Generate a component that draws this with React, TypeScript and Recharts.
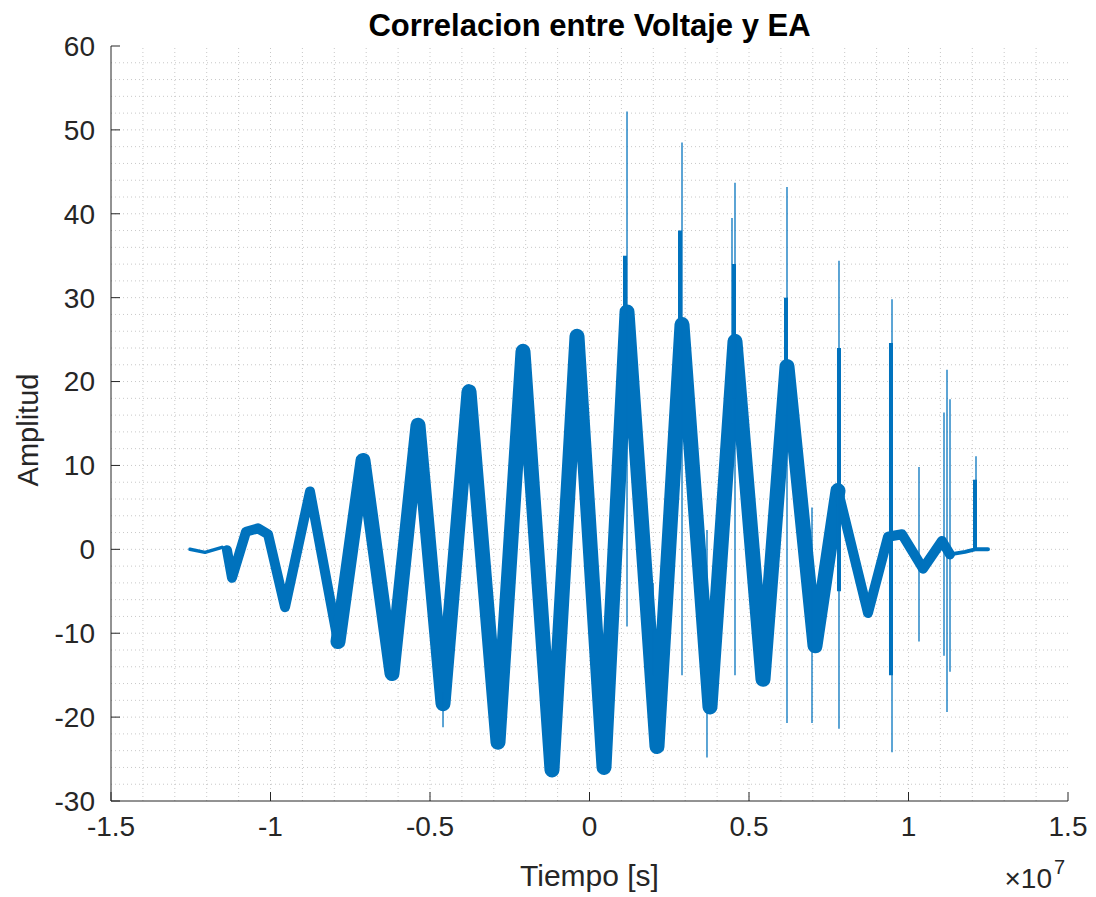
import React from 'react';
import { ComposedChart, Line, XAxis, YAxis, ReferenceLine } from 'recharts';

// Axis ticks
const xTicks = [-1.5, -1, -0.5, 0, 0.5, 1, 1.5];
const yTicks = [-30, -20, -10, 0, 10, 20, 30, 40, 50, 60];
const xGrid = [-1.4, -1.3, -1.2, -1.1, -1, -0.9, -0.8, -0.7, -0.6, -0.5, -0.4, -0.3, -0.2, -0.1, 0, 0.1, 0.2, 0.3, 0.4, 0.5, 0.6, 0.7, 0.8, 0.9, 1, 1.1, 1.2, 1.3, 1.4];
const yGrid = [-28, -26, -24, -22, -20, -18, -16, -14, -12, -10, -8, -6, -4, -2, 0, 2, 4, 6, 8, 10, 12, 14, 16, 18, 20, 22, 24, 26, 28, 30, 32, 34, 36, 38, 40, 42, 44, 46, 48, 50, 52, 54, 56, 58];

const tailLeft = [
  { x: -1.2524, y: 0 }, { x: -1.2053, y: -0.36 }, { x: -1.152, y: 0.24 }, { x: -1.1364, y: -0.1 },
];
const rampLeft = [
  { x: -1.1364, y: -0.1 }, { x: -1.1207, y: -3.4 }, { x: -1.0768, y: 2.1 }, { x: -1.0392, y: 2.5 },
  { x: -1.0078, y: 1.8 }, { x: -0.9545, y: -6.9 }, { x: -0.8762, y: 6.9 }, { x: -0.7884, y: -11.0 },
];
const core = [
  { x: -0.7884, y: -11.0 }, { x: -0.71, y: 10.6 }, { x: -0.6191, y: -14.8 }, { x: -0.5376, y: 14.8 },
  { x: -0.4592, y: -18.4 }, { x: -0.3777, y: 18.8 }, { x: -0.2868, y: -23.0 }, { x: -0.2085, y: 23.6 },
  { x: -0.1176, y: -26.3 }, { x: -0.0392, y: 25.4 }, { x: 0.0455, y: -26.0 }, { x: 0.1176, y: 28.3 },
  { x: 0.2116, y: -23.5 }, { x: 0.29, y: 26.8 }, { x: 0.3777, y: -18.8 }, { x: 0.4561, y: 24.8 },
  { x: 0.5439, y: -15.5 }, { x: 0.6191, y: 21.8 }, { x: 0.7069, y: -11.5 }, { x: 0.779, y: 7.0 },
];
const rampRight = [
  { x: 0.779, y: 7.0 }, { x: 0.873, y: -7.6 }, { x: 0.9357, y: 1.5 }, { x: 0.9796, y: 1.8 },
  { x: 1.0455, y: -2.3 }, { x: 1.105, y: 1.0 }, { x: 1.1301, y: -0.6 },
];
const tailRight = [
  { x: 1.1301, y: -0.6 }, { x: 1.1771, y: -0.3 }, { x: 1.2085, y: 0 }, { x: 1.2492, y: 0 },
];

// Isolated spikes: x, low, high
const thinSpikes = [
  { x: -0.4592, lo: -21.2, hi: -17 },
  { x: 0.1176, lo: -9.2, hi: 52.2 },
  { x: 0.1991, lo: -15, hi: -4 },
  { x: 0.29, lo: -15, hi: 48.5 },
  { x: 0.3683, lo: -24.8, hi: 2.3 },
  { x: 0.4467, lo: 15, hi: 39.5 },
  { x: 0.4561, lo: -15, hi: 43.7 },
  { x: 0.6191, lo: -20.7, hi: 43.2 },
  { x: 0.6975, lo: -20.7, hi: 5 },
  { x: 0.7821, lo: -21.4, hi: 34.4 },
  { x: 0.9483, lo: -24.2, hi: 29.8 },
  { x: 1.0329, lo: -11, hi: 9.8 },
  { x: 1.1113, lo: -12.7, hi: 16.3 },
  { x: 1.1207, lo: -19.4, hi: 21.4 },
  { x: 1.1301, lo: -14.6, hi: 17.9 },
  { x: 1.2116, lo: 0, hi: 11.1 },
];
const denseSpikes = [
  { x: 0.1113, lo: 20, hi: 35 },
  { x: 0.2837, lo: 20, hi: 38 },
  { x: 0.453, lo: 18, hi: 34 },
  { x: 0.616, lo: 16, hi: 30 },
  { x: 0.7821, lo: -5, hi: 24 },
  { x: 0.9451, lo: -15, hi: 24.6 },
  { x: 1.2085, lo: 0, hi: 8.3 },
];

const BLUE = '#0072BD';
const AXIS = '#262626';
const GRID = '#c8c8c8';
const FONT = '"Liberation Sans", Arial, Helvetica, sans-serif';

const segments = [
  { key: 'tailLeft', data: tailLeft, w: 3.5 },
  { key: 'rampLeft', data: rampLeft, w: 10 },
  { key: 'core', data: core, w: 15 },
  { key: 'rampRight', data: rampRight, w: 10 },
  { key: 'tailRight', data: tailRight, w: 4 },
];

export default function App() {
  const W = 1088;
  const H = 889;
  const tickStyle = { fontSize: 28, fill: AXIS, fontFamily: FONT };
  return (
    <div style={{ position: 'relative', width: W, height: H, background: '#fff' }}>
      <ComposedChart width={W} height={H} margin={{ top: 38, right: 28, bottom: 46, left: 13 }}>
        <XAxis
          dataKey="x"
          type="number"
          domain={[-1.5, 1.5]}
          ticks={xTicks}
          interval={0}
          allowDataOverflow
          height={50}
          tickSize={-9}
          tickMargin={24}
          tick={tickStyle}
          stroke={AXIS}
          axisLine={{ stroke: AXIS }}
          tickLine={{ stroke: AXIS }}
        />
        <XAxis
          xAxisId="top"
          orientation="top"
          type="number"
          domain={[-1.5, 1.5]}
          ticks={xTicks}
          interval={0}
          allowDataOverflow
          height={0}
          tickSize={-9}
          tick={false}
          axisLine={{ stroke: AXIS }}
          tickLine={{ stroke: AXIS }}
        />
        <YAxis
          type="number"
          domain={[-30, 60]}
          ticks={yTicks}
          interval={0}
          allowDataOverflow
          width={90}
          tickSize={-9}
          tickMargin={25}
          tick={tickStyle}
          axisLine={{ stroke: AXIS }}
          tickLine={{ stroke: AXIS }}
        />
        <YAxis
          yAxisId="right"
          orientation="right"
          type="number"
          domain={[-30, 60]}
          ticks={yTicks}
          interval={0}
          allowDataOverflow
          width={0}
          tickSize={-9}
          tick={false}
          axisLine={{ stroke: AXIS }}
          tickLine={{ stroke: AXIS }}
        />
        {xGrid.map((v) => (
          <ReferenceLine key={'gx' + v} x={v} stroke={GRID} strokeDasharray="1 3" />
        ))}
        {yGrid.map((v) => (
          <ReferenceLine key={'gy' + v} y={v} stroke={GRID} strokeDasharray="1 3" />
        ))}
        {segments.map((s) => (
          <Line
            key={s.key}
            data={s.data}
            dataKey="y"
            type="linear"
            stroke={BLUE}
            strokeWidth={s.w}
            strokeLinejoin="round"
            strokeLinecap="round"
            dot={false}
            activeDot={false}
            isAnimationActive={false}
          />
        ))}
        {denseSpikes.map((s, i) => (
          <ReferenceLine
            key={'d' + i}
            segment={[{ x: s.x, y: s.lo }, { x: s.x, y: s.hi }]}
            stroke={BLUE}
            strokeWidth={4}
          />
        ))}
        {thinSpikes.map((s, i) => (
          <ReferenceLine
            key={'t' + i}
            segment={[{ x: s.x, y: s.lo }, { x: s.x, y: s.hi }]}
            stroke={BLUE}
            strokeWidth={1.5}
            strokeOpacity={0.85}
          />
        ))}
      </ComposedChart>
      <svg
        width={W}
        height={H}
        style={{ position: 'absolute', left: 0, top: 0, pointerEvents: 'none', overflow: 'visible' }}
      >
        <text x={581.5} y={28} textAnchor="middle" fontFamily={FONT} fontWeight="bold" fontSize={31} fill="#000">
          Correlacion entre Voltaje y EA
        </text>
        <text x={581.5} y={878} textAnchor="middle" fontFamily={FONT} fontSize={30} fill={AXIS}>
          Tiempo [s]
        </text>
        <text
          x={0}
          y={0}
          transform="translate(30,422) rotate(-90)"
          textAnchor="middle"
          fontFamily={FONT}
          fontSize={29}
          fill={AXIS}
        >
          Amplitud
        </text>
        <text x={1044} y={880} textAnchor="end" fontFamily={FONT} fontSize={28} fill={AXIS}>
          ×10
        </text>
        <text x={1046} y={866} textAnchor="start" fontFamily={FONT} fontSize={20} fill={AXIS}>
          7
        </text>
      </svg>
    </div>
  );
}
